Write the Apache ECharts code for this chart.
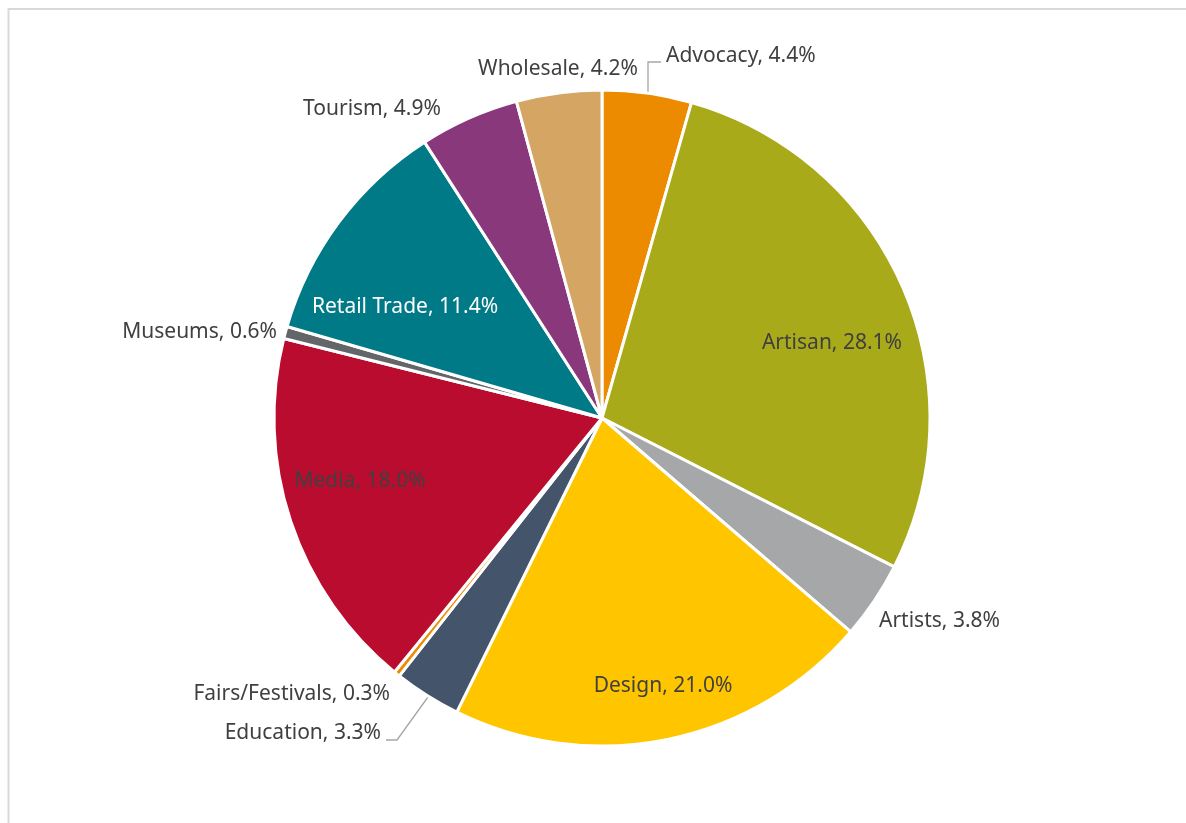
<!DOCTYPE html>
<html>
<head>
<meta charset="utf-8">
<title>Sector share</title>
<script src="https://cdn.jsdelivr.net/npm/echarts@6/dist/echarts.min.js"></script>
<style>
  html, body { margin: 0; padding: 0; background: #fff; }
  #chart { width: 1186px; height: 823px; }
</style>
</head>
<body>
<div id="chart"></div>
<script>
// Sectors, clockwise from 12 o'clock
const sectors = ['Advocacy', 'Artisan', 'Artists', 'Design', 'Education', 'Fairs/Festivals',
                 'Media', 'Museums', 'Retail Trade', 'Tourism', 'Wholesale'];
// Share of total, percent
const shares = [4.4, 28.1, 3.8, 21.0, 3.3, 0.3, 18.0, 0.6, 11.4, 4.9, 4.2];

const colors = {
  'Advocacy': '#EC8B00', 'Artisan': '#A8AA1A', 'Artists': '#A6A7A9', 'Design': '#FFC600',
  'Education': '#44546A', 'Fairs/Festivals': '#EC8B00', 'Media': '#BA0C2F', 'Museums': '#646569',
  'Retail Trade': '#007A87', 'Tourism': '#8A387C', 'Wholesale': '#D5A563'
};

// Label placement: anchor point, alignment, text colour, optional leader line
const labelPlace = {
  'Advocacy':        { x: 666, y: 56,  align: 'left',   line: [[648, 92], [648, 62], [661, 62]] },
  'Artisan':         { x: 832, y: 343, align: 'center' },
  'Artists':         { x: 879, y: 621, align: 'left' },
  'Design':          { x: 663, y: 686, align: 'center' },
  'Education':       { x: 381, y: 733, align: 'right',  line: [[428, 697], [397, 740], [386, 740]] },
  'Fairs/Festivals': { x: 390, y: 694, align: 'right' },
  'Media':           { x: 360, y: 481, align: 'center' },
  'Museums':         { x: 277, y: 332, align: 'right' },
  'Retail Trade':    { x: 405, y: 307, align: 'center', color: '#ffffff' },
  'Tourism':         { x: 372, y: 109, align: 'center' },
  'Wholesale':       { x: 558, y: 69,  align: 'center' }
};

const FONT = '"Noto Sans", "Open Sans", sans-serif';

const chart = echarts.init(document.getElementById('chart'), null, { renderer: 'canvas' });

chart.setOption({
  animation: false,
  backgroundColor: '#ffffff',
  graphic: [{
    type: 'rect',
    shape: { x: 8.5, y: 9, width: 1200, height: 840 },
    style: { fill: 'none', stroke: '#D9D9D9', lineWidth: 2 },
    silent: true
  }],
  series: [{
    type: 'pie',
    center: [602, 418],
    radius: [0, 328],
    startAngle: 90,
    clockwise: true,
    avoidLabelOverlap: false,
    itemStyle: { borderColor: '#ffffff', borderWidth: 3 },
    label: {
      show: true,
      fontFamily: FONT,
      fontSize: 21,
      color: '#404040',
      formatter: p => p.name + ', ' + p.value.toFixed(1) + '%'
    },
    labelLine: { show: true, length: 10, length2: 10, lineStyle: { color: '#A6A6A6', width: 1.3 } },
    labelLayout: function (params) {
      const name = sectors[params.dataIndex];
      const lp = labelPlace[name];
      const out = { x: lp.x, y: lp.y, align: lp.align, verticalAlign: 'middle' };
      if (lp.line) out.labelLinePoints = lp.line;
      return out;
    },
    data: sectors.map((name, i) => ({
      name: name,
      value: shares[i],
      itemStyle: { color: colors[name] },
      label: labelPlace[name].color ? { color: labelPlace[name].color } : undefined,
      labelLine: { show: !!labelPlace[name].line }
    }))
  }]
});
</script>
</body>
</html>
